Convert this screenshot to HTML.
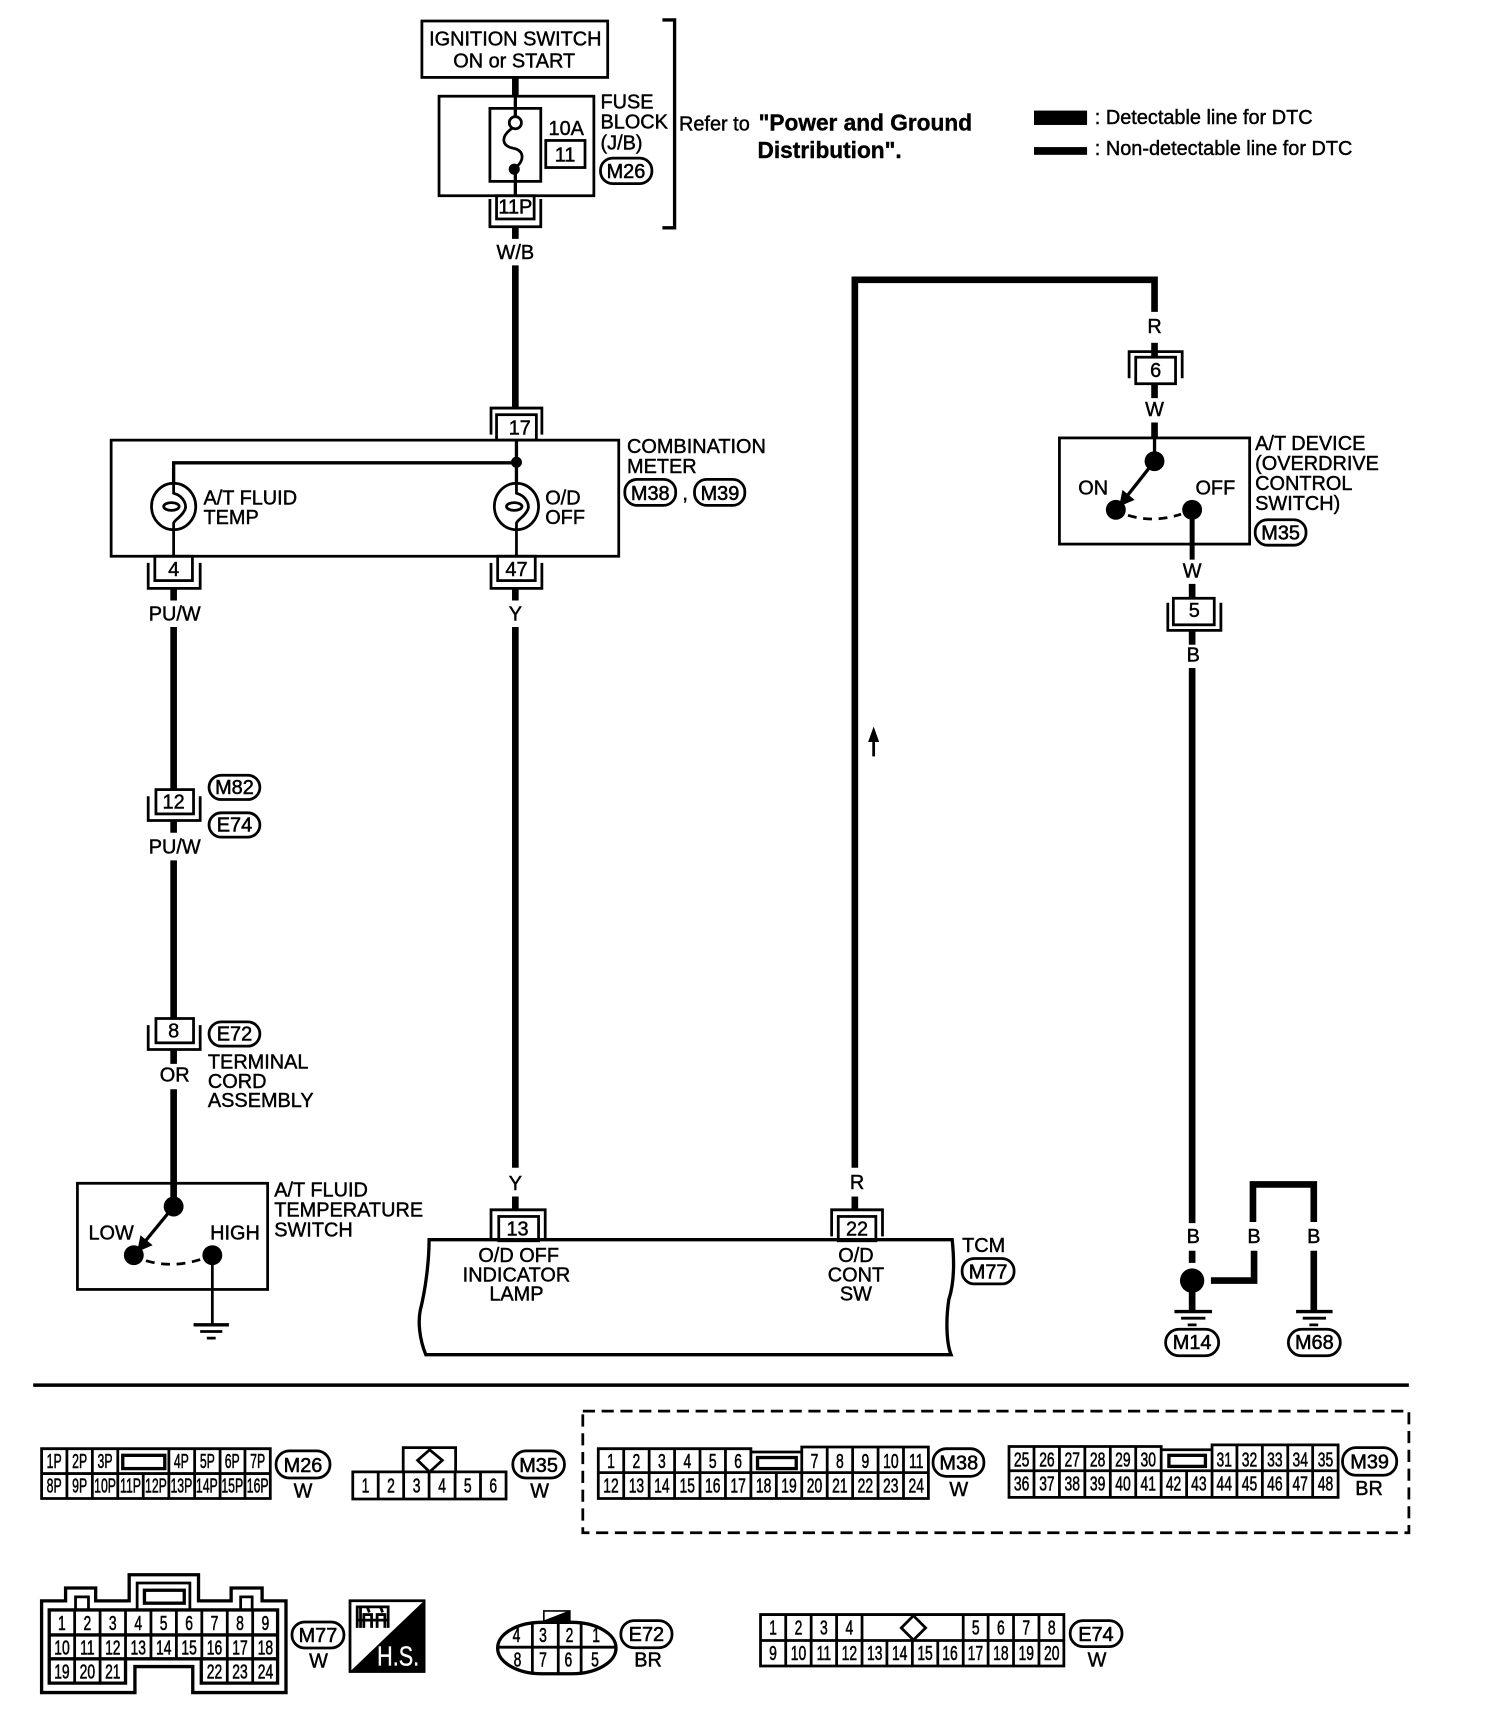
<!DOCTYPE html>
<html><head><meta charset="utf-8"><style>
html,body{margin:0;padding:0;background:#fff}
svg{display:block}
text{font-family:"Liberation Sans",sans-serif;font-size:18px;fill:#000;stroke:#000;stroke-width:.4}
.m{text-anchor:middle}
.b{font-weight:bold;font-size:20.5px;stroke-width:.35}
.o{text-anchor:middle;font-size:18px;stroke-width:.5}
.c{text-anchor:middle;font-size:18.5px;stroke-width:.5;transform-box:fill-box;transform-origin:center;transform:scaleX(.68)}
.p{text-anchor:middle;font-size:18.5px;stroke-width:.5;transform-box:fill-box;transform-origin:center;transform:scaleX(.6)}
.l{fill:none;stroke:#000;stroke-width:2.5}
.w{fill:none;stroke:#000;stroke-width:6}
.t{fill:none;stroke:#000;stroke-width:3}
</style></head><body>
<svg xmlns="http://www.w3.org/2000/svg" width="1504" height="1734" viewBox="0 0 1360 1568">
<rect width="1360" height="1568" fill="#fff"/>

<!-- ignition + fuse -->
<rect class="l" x="381.5" y="19" width="168" height="51"/>
<text class="m" x="466" y="41">IGNITION SWITCH</text>
<text class="m" x="465" y="61">ON or START</text>
<path class="w" d="M466 70V87"/>
<rect class="l" x="397" y="87" width="140" height="90"/>
<rect class="l" x="443" y="98" width="46" height="66"/>
<path class="t" d="M466 87V106"/>
<circle class="l" cx="466" cy="111" r="5.5"/>
<path class="l" d="M463 116C452 124 454 132 464 134C474 136 474 144 468 150"/>
<circle cx="465" cy="153" r="5"/>
<path class="t" d="M466 153V177"/>
<text x="496" y="122">10A</text>
<rect class="l" x="493.5" y="127" width="35.5" height="24.5"/>
<text class="m" x="511" y="146">11</text>
<text x="543" y="98">FUSE</text><text x="543" y="116">BLOCK</text><text x="543" y="135">(J/B)</text>
<rect class="l" x="543" y="143" width="46.5" height="23" rx="11"/><text class="o" x="566" y="161">M26</text>
<path class="t" d="M599 18H610V206H599"/>
<rect class="l" x="449" y="177" width="34" height="21"/><text class="o" x="466" y="193">11P</text>
<path class="l" d="M443 180V205H489V180"/>
<path class="w" d="M466 205V216"/>
<text class="m" x="466" y="234">W/B</text>
<path class="w" d="M466 240V369"/>

<text x="614" y="118">Refer to</text>
<text class="b" x="686" y="118">"Power and Ground</text>
<text class="b" x="685" y="143">Distribution".</text>
<rect x="935" y="100" width="48" height="13"/><rect x="935" y="133" width="48" height="7"/>
<text x="990" y="112">: Detectable line for DTC</text>
<text x="990" y="140">: Non-detectable line for DTC</text>

<!-- combination meter -->
<path class="l" d="M444 393V369H490V393"/>
<rect class="l" x="449" y="375" width="36" height="23"/><text class="m" x="470" y="393">17</text>
<rect class="l" x="100.5" y="398" width="459" height="105"/>
<path class="t" d="M467 398V437M467 418.5H157V437"/>
<circle cx="467" cy="418" r="5"/>
<ellipse class="l" cx="157" cy="458" rx="20" ry="21"/>
<ellipse class="l" cx="467" cy="458" rx="20" ry="21"/>
<path class="l" d="M157 437V446C167 449 170 458 166 463C163 468 158 470 157 473V503"/>
<ellipse class="l" cx="155" cy="458" rx="7" ry="3.5"/>
<path class="l" d="M467 437V446C477 449 480 458 476 463C473 468 468 470 467 473V503"/>
<ellipse class="l" cx="465" cy="458" rx="7" ry="3.5"/>
<text x="184" y="456">A/T FLUID</text><text x="184" y="474">TEMP</text>
<text x="493" y="456">O/D</text><text x="493" y="474">OFF</text>
<text x="567" y="409.5">COMBINATION</text><text x="567" y="427.5">METER</text>
<rect class="l" x="565" y="433.5" width="46" height="23.5" rx="11"/><text class="o" x="588" y="452">M38</text>
<text x="617" y="452">,</text>
<rect class="l" x="628" y="433.5" width="45.5" height="23.5" rx="11"/><text class="o" x="651" y="452">M39</text>

<!-- conn 4 / 47 -->
<rect class="l" x="140" y="503" width="34" height="22"/><text class="m" x="157" y="521">4</text>
<path class="l" d="M134 509V532H181V509"/>
<rect class="l" x="450" y="503" width="34" height="22"/><text class="m" x="467" y="521">47</text>
<path class="l" d="M444 509V532H490V509"/>
<path class="w" d="M157 532V543M466 532V543"/>
<text class="m" x="158" y="561">PU/W</text><text class="m" x="466" y="561">Y</text>

<!-- left wire -->
<path class="w" d="M157 567V715"/>
<rect class="l" x="141" y="714" width="34" height="22"/><text class="m" x="157" y="731">12</text>
<path class="l" d="M134 720V742H181V720"/>
<rect class="l" x="189" y="701" width="46" height="22" rx="11"/><text class="o" x="212" y="718">M82</text>
<rect class="l" x="189" y="735" width="46" height="22" rx="11"/><text class="o" x="212" y="752">E74</text>
<path class="w" d="M157 742V753M157 778V921"/>
<text class="m" x="158" y="772">PU/W</text>
<rect class="l" x="141" y="921" width="34" height="22"/><text class="m" x="157" y="938">8</text>
<path class="l" d="M134 927V949H181V927"/>
<rect class="l" x="189" y="924" width="46" height="22" rx="11"/><text class="o" x="212" y="941">E72</text>
<text x="188" y="966">TERMINAL</text><text x="188" y="984">CORD</text><text x="188" y="1001">ASSEMBLY</text>
<path class="w" d="M157 950V962M157 985V1090"/>
<text class="m" x="158" y="978">OR</text>

<!-- temp switch -->
<rect class="l" x="70" y="1070" width="172" height="96"/>
<circle cx="157" cy="1091" r="9"/><circle cx="121" cy="1135" r="9"/><circle cx="192" cy="1135" r="9"/>
<path class="t" d="M157 1091L130 1124"/><polygon points="124,1132 127,1117 138,1126"/>
<path class="l" stroke-dasharray="8 6" d="M132 1140Q155 1147 181 1139"/>
<text x="80" y="1121">LOW</text><text x="190" y="1121">HIGH</text>
<text x="248" y="1082">A/T FLUID</text><text x="248" y="1100">TEMPERATURE</text><text x="248" y="1118">SWITCH</text>
<path class="l" d="M192 1135V1198"/>
<path class="t" d="M175 1198H207"/><path class="l" d="M181 1204H201M187 1210H195"/>

<!-- center Y wire -->
<path class="w" d="M466 567V1056M466 1082V1094"/>
<text class="m" x="466" y="1076">Y</text>
<path class="l" d="M444 1120V1094H493V1120"/>
<rect class="l" x="451" y="1100" width="36" height="22"/><text class="m" x="468" y="1117">13</text>

<!-- TCM -->
<path class="t" d="M388 1121H861C863 1140 863 1160 858 1175C855 1195 856 1215 860 1225H385C379 1210 378 1195 380 1185C385 1165 388 1140 388 1121Z"/>
<text class="m" x="469" y="1141">O/D OFF</text><text class="m" x="467" y="1159">INDICATOR</text><text class="m" x="467" y="1176">LAMP</text>
<text class="m" x="774" y="1141">O/D</text><text class="m" x="774" y="1159">CONT</text><text class="m" x="774" y="1176">SW</text>
<text x="870" y="1132">TCM</text>
<rect class="l" x="870" y="1138" width="47" height="23" rx="11"/><text class="o" x="893.5" y="1156">M77</text>

<!-- R wire -->
<path class="w" d="M773 1056V253H1044V282"/>
<path class="w" d="M773 1082V1094" stroke-width="5"/>
<text class="m" x="775" y="1075">R</text>
<path class="l" d="M752 1118V1094H798V1118"/>
<rect class="l" x="758" y="1100" width="34" height="22"/><text class="m" x="775" y="1117">22</text>
<path class="l" d="M790 684V666"/><polygon points="785,671 790,657 795,671"/>

<text class="m" x="1044" y="301">R</text>
<path class="w" d="M1044 310V323"/>
<path class="l" d="M1021 342V318H1069V342"/>
<rect class="l" x="1027" y="323" width="36" height="24"/><text class="m" x="1045" y="341">6</text>
<path class="w" d="M1044 347V360M1044 382V396"/>
<text class="m" x="1044" y="376">W</text>

<!-- AT device -->
<rect class="l" x="958" y="396" width="172" height="96"/>
<path class="t" d="M1044 396V417"/>
<circle cx="1044" cy="417" r="9"/><circle cx="1009" cy="461" r="9"/><circle cx="1078" cy="461" r="9"/>
<path class="t" d="M1044 417L1018 450"/><polygon points="1012,458 1015,443 1026,452"/>
<path class="l" stroke-dasharray="8 6" d="M1020 466Q1043 473 1068 465"/>
<text x="975" y="447">ON</text><text x="1081" y="447">OFF</text>
<text x="1135" y="407">A/T DEVICE</text><text x="1135" y="425">(OVERDRIVE</text><text x="1135" y="443">CONTROL</text><text x="1135" y="461">SWITCH)</text>
<rect class="l" x="1135" y="470" width="46" height="23" rx="11"/><text class="o" x="1158" y="488">M35</text>
<path d="M1078 461V506" stroke="#000" stroke-width="4.5"/>
<text class="m" x="1078" y="522">W</text>
<path class="w" d="M1078 528V541"/>
<rect class="l" x="1061" y="541" width="37" height="24"/><text class="m" x="1080" y="558">5</text>
<path class="l" d="M1056 545V570H1104V545"/>
<path class="w" d="M1078 571V583M1078 604V1106M1078 1131V1142M1078 1168V1186"/>
<text class="m" x="1079" y="598">B</text><text class="m" x="1079" y="1124">B</text>
<circle cx="1078" cy="1158" r="11"/>
<path class="w" d="M1095 1158H1134V1131M1133 1105V1071H1188V1105M1188 1131V1186"/>
<text class="m" x="1134" y="1124">B</text><text class="m" x="1188" y="1124">B</text>
<path class="t" d="M1062 1186H1096M1172 1186H1205"/>
<path class="l" d="M1068 1192H1090M1178 1192H1199M1074 1198H1082M1184 1198H1192"/>
<rect class="l" x="1054" y="1202" width="48" height="24" rx="12"/><text class="o" x="1078" y="1220">M14</text>
<rect class="l" x="1165" y="1202" width="47" height="24" rx="12"/><text class="o" x="1188.5" y="1220">M68</text>

<path d="M30 1252.5H1274" stroke="#000" stroke-width="3.2"/>

<!-- M26 connector -->
<path class="l" d="M37.6 1310H244.4V1355H37.6ZM37.6 1332.5H244.4M60.5 1310V1355M83.5 1310V1355M106.5 1310V1355M152.7 1310V1355M176 1310V1355M199 1310V1355M221.5 1310V1355M129.5 1332.5V1355"/>
<rect class="t" x="111" y="1316" width="38" height="12"/>
<g>
<text class="p" x="49" y="1327.6">1P</text><text class="p" x="72" y="1327.6">2P</text><text class="p" x="95" y="1327.6">3P</text><text class="p" x="164" y="1327.6">4P</text><text class="p" x="187.5" y="1327.6">5P</text><text class="p" x="210" y="1327.6">6P</text><text class="p" x="233" y="1327.6">7P</text>
<text class="p" x="49" y="1349.6">8P</text><text class="p" x="72" y="1349.6">9P</text><text class="p" x="95" y="1349.6">10P</text><text class="p" x="118" y="1349.6">11P</text><text class="p" x="141" y="1349.6">12P</text><text class="p" x="164" y="1349.6">13P</text><text class="p" x="187" y="1349.6">14P</text><text class="p" x="210" y="1349.6">15P</text><text class="p" x="233" y="1349.6">16P</text>
</g>
<rect class="l" x="249.6" y="1312" width="48.8" height="24.5" rx="12"/><text class="o" x="274" y="1331">M26</text>
<text class="m" x="274" y="1354">W</text>

<!-- M35 connector -->
<path class="l" d="M319 1331H457.6V1355.5H319ZM342 1331V1355.5M365 1331V1355.5M388 1331V1355.5M411.5 1331V1355.5M434.5 1331V1355.5M364.6 1331V1309H412V1331"/>
<polygon class="l" points="388.5,1311 400,1320.5 388.5,1331 377.6,1320.5"/>
<text class="c" x="330.5" y="1349.5">1</text><text class="c" x="353.6" y="1349.5">2</text><text class="c" x="376.7" y="1349.5">3</text><text class="c" x="399.8" y="1349.5">4</text><text class="c" x="423" y="1349.5">5</text><text class="c" x="446" y="1349.5">6</text>
<rect class="l" x="463.7" y="1312" width="46.7" height="24.5" rx="12"/><text class="o" x="487" y="1331">M35</text>
<text class="m" x="488" y="1354">W</text>

<!-- dashed -->
<rect class="l" x="527" y="1276" width="747" height="110" stroke-dasharray="11 6"/>

<!-- M38 -->
<path class="l" d="M541 1331.6V1310H679V1313H725V1308.5H839.5V1355H541V1331.6H839.5M564 1310V1355M587 1310V1355M610 1310V1355M633 1310V1355M656 1310V1355M679 1310V1355M702 1331.6V1355M725 1308.5V1355M748 1308.5V1355M771 1308.5V1355M794 1308.5V1355M817 1308.5V1355"/>
<rect class="t" x="685" y="1318" width="35" height="10"/>
<text class="c" x="552.5" y="1327.6">1</text><text class="c" x="575.5" y="1327.6">2</text><text class="c" x="598.5" y="1327.6">3</text><text class="c" x="621.5" y="1327.6">4</text><text class="c" x="644.5" y="1327.6">5</text><text class="c" x="667.5" y="1327.6">6</text><text class="c" x="736.5" y="1327.6">7</text><text class="c" x="759.5" y="1327.6">8</text><text class="c" x="782.5" y="1327.6">9</text><text class="c" x="805.5" y="1327.6">10</text><text class="c" x="828.5" y="1327.6">11</text>
<text class="c" x="552.5" y="1349.6">12</text><text class="c" x="575.5" y="1349.6">13</text><text class="c" x="598.5" y="1349.6">14</text><text class="c" x="621.5" y="1349.6">15</text><text class="c" x="644.5" y="1349.6">16</text><text class="c" x="667.5" y="1349.6">17</text><text class="c" x="690.5" y="1349.6">18</text><text class="c" x="713.5" y="1349.6">19</text><text class="c" x="736.5" y="1349.6">20</text><text class="c" x="759.5" y="1349.6">21</text><text class="c" x="782.5" y="1349.6">22</text><text class="c" x="805.5" y="1349.6">23</text><text class="c" x="828.5" y="1349.6">24</text>
<rect class="l" x="843.7" y="1310" width="46" height="25" rx="12"/><text class="o" x="867" y="1329">M38</text>
<text class="m" x="867" y="1353">W</text>

<!-- M39 -->
<path class="l" d="M912.4 1330V1308H1050V1311H1096V1306.6H1210V1354H912.4V1330H1210M935 1308V1354M958 1308V1354M981 1308V1354M1004 1308V1354M1027 1308V1354M1050 1308V1354M1073 1330V1354M1096 1306.6V1354M1118.5 1306.6V1354M1141.5 1306.6V1354M1164.5 1306.6V1354M1187 1306.6V1354"/>
<rect class="t" x="1057" y="1316" width="33" height="10"/>
<text class="c" x="923.8" y="1326">25</text><text class="c" x="946.7" y="1326">26</text><text class="c" x="969.6" y="1326">27</text><text class="c" x="992.5" y="1326">28</text><text class="c" x="1015.4" y="1326">29</text><text class="c" x="1038.3" y="1326">30</text><text class="c" x="1107" y="1326">31</text><text class="c" x="1129.9" y="1326">32</text><text class="c" x="1152.8" y="1326">33</text><text class="c" x="1175.7" y="1326">34</text><text class="c" x="1198.6" y="1326">35</text>
<text class="c" x="923.8" y="1348">36</text><text class="c" x="946.7" y="1348">37</text><text class="c" x="969.6" y="1348">38</text><text class="c" x="992.5" y="1348">39</text><text class="c" x="1015.4" y="1348">40</text><text class="c" x="1038.3" y="1348">41</text><text class="c" x="1061.2" y="1348">42</text><text class="c" x="1084.1" y="1348">43</text><text class="c" x="1107" y="1348">44</text><text class="c" x="1129.9" y="1348">45</text><text class="c" x="1152.8" y="1348">46</text><text class="c" x="1175.7" y="1348">47</text><text class="c" x="1198.6" y="1348">48</text>
<rect class="l" x="1214" y="1309" width="49" height="25" rx="12"/><text class="o" x="1238.5" y="1328">M39</text>
<text class="m" x="1238" y="1352">BR</text>

<!-- M77 -->
<path class="t" d="M37.6 1447.6H59.3V1436H86.5V1447.6H116.8V1424H179.5V1447.6H209V1436H237V1447.6H258.6V1530.5H174.3V1507H122V1530.5H37.6Z"/>
<path class="l" d="M68.3 1455.8V1444H80V1455.8M217.6 1455.8V1444H228V1455.8M124 1455.8V1431.5H171.7V1455.8"/>
<rect class="t" x="130.6" y="1438" width="36" height="11.7"/>
<path class="t" d="M44.5 1455.8H251V1522H182V1500H113.5V1522H44.5ZM44.5 1478.4H251M44.5 1500H113.5M182 1500H251"/>
<path class="l" d="M67.5 1455.8V1522M90.5 1455.8V1522M113.5 1455.8V1500M136.5 1455.8V1500M159.5 1455.8V1500M182.5 1455.8V1500M205.5 1455.8V1522M228.5 1455.8V1522"/>
<text class="c" x="56" y="1474">1</text><text class="c" x="79" y="1474">2</text><text class="c" x="102" y="1474">3</text><text class="c" x="125" y="1474">4</text><text class="c" x="148" y="1474">5</text><text class="c" x="171" y="1474">6</text><text class="c" x="194" y="1474">7</text><text class="c" x="217" y="1474">8</text><text class="c" x="240" y="1474">9</text>
<text class="c" x="56" y="1496">10</text><text class="c" x="79" y="1496">11</text><text class="c" x="102" y="1496">12</text><text class="c" x="125" y="1496">13</text><text class="c" x="148" y="1496">14</text><text class="c" x="171" y="1496">15</text><text class="c" x="194" y="1496">16</text><text class="c" x="217" y="1496">17</text><text class="c" x="240" y="1496">18</text>
<text class="c" x="56" y="1518">19</text><text class="c" x="79" y="1518">20</text><text class="c" x="102" y="1518">21</text><text class="c" x="194" y="1518">22</text><text class="c" x="217" y="1518">23</text><text class="c" x="240" y="1518">24</text>
<rect class="l" x="264" y="1466.7" width="47" height="23.5" rx="11.5"/><text class="o" x="287.5" y="1485">M77</text>
<text class="m" x="288" y="1508">W</text>

<!-- H.S. -->
<rect class="l" x="316.5" y="1447.5" width="67" height="64"/>
<polygon points="384,1447 384,1512 316,1512"/>
<path class="l" d="M323 1472V1453H351V1472M329 1472V1460H336V1472M341 1472V1460H348V1472M326 1453V1472M332 1453L334 1458M344 1453L346 1458M323 1465H351" stroke-width="1.6"/>
<text x="341" y="1506" style="fill:#fff;stroke:#fff;font-size:25px;stroke-width:.3" textLength="38" lengthAdjust="spacingAndGlyphs">H.S.</text>

<!-- E72 -->
<rect x="491" y="1456" width="25" height="11.5"/><polygon points="492.5,1457.5 512,1457.5 492.5,1465" fill="#fff"/>
<rect class="t" x="450" y="1467" width="107" height="46.5" rx="40" ry="23"/>
<path class="l" d="M450 1489.5H557M481.4 1467V1513.5M504.8 1467V1513.5M525.5 1467V1513.5"/>
<text class="c" x="467" y="1485">4</text><text class="c" x="491" y="1485">3</text><text class="c" x="515" y="1485">2</text><text class="c" x="539" y="1485">1</text>
<text class="c" x="468" y="1507">8</text><text class="c" x="491" y="1507">7</text><text class="c" x="514" y="1507">6</text><text class="c" x="538" y="1507">5</text>
<rect class="l" x="561.4" y="1465.5" width="46.3" height="24.5" rx="12"/><text class="o" x="584.5" y="1484">E72</text>
<text class="m" x="586" y="1507">BR</text>

<!-- E74 -->
<path class="l" d="M687.7 1460H962V1506.5H687.7ZM687.7 1483.5H962M710.5 1460V1506.5M733.5 1460V1506.5M756.5 1460V1506.5M779.5 1460V1506.5M802 1483.5V1506.5M825 1483.5V1506.5M848 1483.5V1506.5M871 1460V1506.5M893.5 1460V1506.5M916.5 1460V1506.5M939.5 1460V1506.5"/>
<polygon class="l" points="826,1461 837,1472 826,1483 815,1472"/>
<text class="c" x="699" y="1478">1</text><text class="c" x="722" y="1478">2</text><text class="c" x="745" y="1478">3</text><text class="c" x="768" y="1478">4</text><text class="c" x="882.3" y="1478">5</text><text class="c" x="905" y="1478">6</text><text class="c" x="928" y="1478">7</text><text class="c" x="951" y="1478">8</text>
<text class="c" x="699" y="1501">9</text><text class="c" x="722" y="1501">10</text><text class="c" x="745" y="1501">11</text><text class="c" x="768" y="1501">12</text><text class="c" x="791" y="1501">13</text><text class="c" x="813.5" y="1501">14</text><text class="c" x="836.5" y="1501">15</text><text class="c" x="859" y="1501">16</text><text class="c" x="882" y="1501">17</text><text class="c" x="905" y="1501">18</text><text class="c" x="928" y="1501">19</text><text class="c" x="951" y="1501">20</text>
<rect class="l" x="967.7" y="1465.5" width="46.9" height="23.5" rx="11.5"/><text class="o" x="991" y="1484">E74</text>
<text class="m" x="992" y="1507">W</text>
</svg>
</body></html>
